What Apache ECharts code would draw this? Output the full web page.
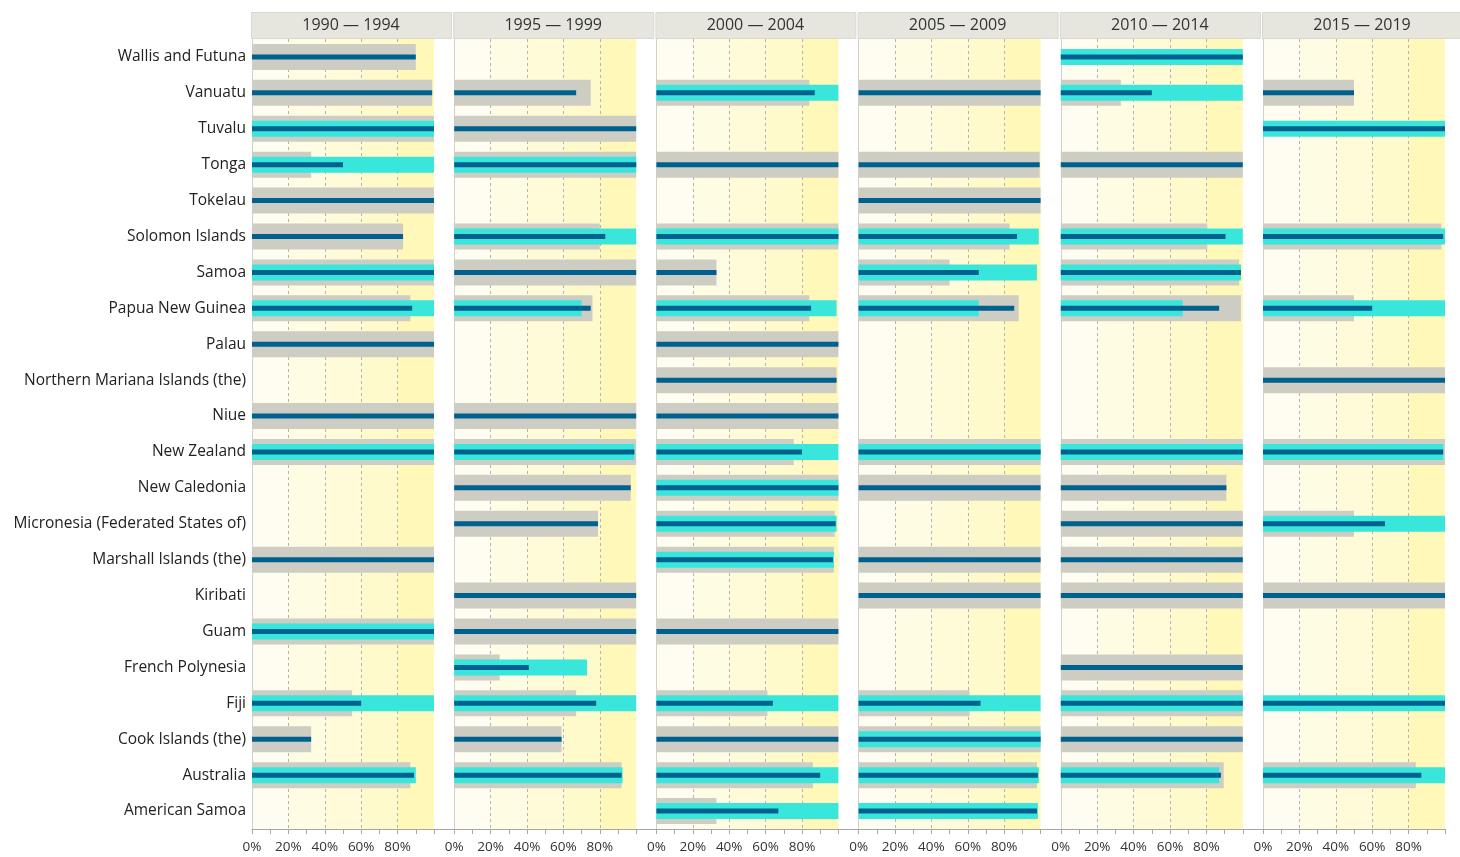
<!DOCTYPE html>
<html>
<head>
<meta charset="utf-8">
<title>Pacific coverage by period</title>
<script src="https://cdn.jsdelivr.net/npm/echarts@6/dist/echarts.min.js"></script>
<style>
  html, body { margin: 0; padding: 0; background: #ffffff; }
  #chart { width: 1460px; height: 857px; }
</style>
</head>
<body>
<div id="chart"></div>
<script>
// Countries, top row first
const countries = [
  'Wallis and Futuna', 'Vanuatu', 'Tuvalu', 'Tonga', 'Tokelau', 'Solomon Islands',
  'Samoa', 'Papua New Guinea', 'Palau', 'Northern Mariana Islands (the)', 'Niue',
  'New Zealand', 'New Caledonia', 'Micronesia (Federated States of)', 'Marshall Islands (the)',
  'Kiribati', 'Guam', 'French Polynesia', 'Fiji', 'Cook Islands (the)', 'Australia', 'American Samoa'
];

const periods = ['1990 — 1994', '1995 — 1999', '2000 — 2004', '2005 — 2009', '2010 — 2014', '2015 — 2019'];

// Value-axis ticks (percent)
const bandEdges = [0, 20, 40, 60, 80, 100];

// Wide grey bars (range), per period
const range1990 = [90, 99, 100, 32.5, 100, 83, 100, 87, 100, null, 100, 100, null, null, 100, null, 100, null, 55, 32.5, 87, null];
const range1995 = [null, 75, 100, 100, null, 80, 100, 76, null, null, 100, 100, 97, 79, null, 100, 100, 25, 67, 59, 92, null];
const range2000 = [null, 84, null, 100, null, 100, 33, 84, 100, 99, 100, 75.5, 100, 98, 97.5, null, 100, null, 61, 100, 86, 33];
const range2005 = [null, 100, null, 99.5, 100, 83, 50, 88, null, null, null, 100, 100, null, 100, 100, null, null, 61, 100, 98, null];
const range2010 = [null, 33, null, 100, null, 80.5, 98, 99, null, null, null, 100, 91, 100, 100, 100, null, 100, 100, 100, 89.5, null];
const range2015 = [null, 50, null, null, null, 98, null, 50, null, 100, null, 100, null, 50, null, 100, null, null, null, null, 84, null];

// Medium cyan bars (comparison), per period
const compare1990 = [null, null, 100, 100, null, null, 100, 100, null, null, null, 100, null, null, null, null, 100, null, 100, null, 90, null];
const compare1995 = [null, null, null, 100, null, 100, null, 70, null, null, null, 99, null, null, null, null, null, 73, 100, null, 92.5, null];
const compare2000 = [null, 100, null, null, null, 100, null, 99, null, null, null, 100, 100, 99, 97.5, null, null, null, 100, null, 100, 100];
const compare2005 = [null, null, null, null, null, 99, 98, 66, null, null, null, 100, null, null, null, null, null, null, 100, 100, 99, 98.5];
const compare2010 = [100, 100, null, null, null, 100, 99, 67, null, null, null, 100, null, null, null, null, null, null, 100, null, 87, null];
const compare2015 = [null, null, 100, null, null, 100, null, 100, null, null, null, 99, null, 100, null, null, null, null, 100, null, 100, null];

// Thin dark bars (actual value), per period
const actual1990 = [90, 99, 100, 50, 100, 83, 100, 88, 100, null, 100, 100, null, null, 100, null, 100, null, 60, 32.5, 89, null];
const actual1995 = [null, 67, 100, 100, null, 83, 100, 75, null, null, 100, 99, 97, 79, null, 100, 100, 41, 78, 59, 92, null];
const actual2000 = [null, 87, null, 100, null, 100, 33, 85, 100, 99, 100, 80, 100, 98.5, 97, null, 100, null, 64, 100, 90, 67];
const actual2005 = [null, 100, null, 99.5, 100, 87, 66, 85.5, null, null, null, 100, 100, null, 100, 100, null, null, 67, 100, 98.5, 98];
const actual2010 = [100, 50, null, 100, null, 90.5, 99, 87, null, null, null, 100, 91, 100, 100, 100, null, 100, 100, 100, 88, null];
const actual2015 = [null, 50, 100, null, null, 99, null, 60, null, 100, null, 99, null, 67, null, 100, null, null, 100, null, 87, null];

const rangeSets = [range1990, range1995, range2000, range2005, range2010, range2015];
const compareSets = [compare1990, compare1995, compare2000, compare2005, compare2010, compare2015];
const actualSets = [actual1990, actual1995, actual2000, actual2005, actual2010, actual2015];

// Layout
const PANEL_LEFT = 252;
const PANEL_STEP = 202.2;
const PANEL_W = 182;
const PLOT_TOP = 39;
const PLOT_H = 790;
const HEADER_TOP = 12;
const HEADER_H = 26;
const FONT = '"Open Sans", "Noto Sans", sans-serif';

const bandColors = ['#fffdf1', '#fffce4', '#fffbd8', '#fffacb', '#fff8b9'];
const greyBar = '#cecdc4';
const cyanBar = '#38e6dc';
const darkBar = '#00618f';

const grids = [], xAxes = [], yAxes = [], series = [], graphics = [];

periods.forEach((label, i) => {
  const left = PANEL_LEFT + i * PANEL_STEP;
  grids.push({ left: left, top: PLOT_TOP, width: PANEL_W, height: PLOT_H, containLabel: false });

  xAxes.push({
    gridIndex: i, type: 'value', min: bandEdges[0], max: bandEdges[bandEdges.length - 1], interval: 20,
    axisLine: { show: true, onZero: false, lineStyle: { color: '#a6a6a6', width: 1 } },
    axisTick: { show: true, length: 5, lineStyle: { color: '#a6a6a6' } },
    minorTick: { show: true, splitNumber: 2, length: 5, lineStyle: { color: '#a6a6a6' } },
    axisLabel: {
      color: '#333', fontSize: 13.5, fontFamily: FONT, margin: 11,
      formatter: v => (v >= 100 ? '' : v + '%')
    },
    splitLine: { show: true, showMinLine: false, showMaxLine: false,
      lineStyle: { color: '#b4b4b4', type: [3, 3], width: 1 } },
    splitArea: { show: true, areaStyle: { color: bandColors } }
  });

  // three category axes per panel so each bar layer is centred on its row
  for (let k = 0; k < 3; k++) {
    yAxes.push({
      gridIndex: i, type: 'category', data: countries, inverse: true,
      show: k === 0,
      axisLine: { show: true, lineStyle: { color: '#d0d0d0', width: 1 } },
      axisTick: { show: false },
      axisLabel: { show: i === 0, color: '#222', fontSize: 15.5, fontFamily: FONT, margin: 6 },
      splitLine: { show: false }
    });
  }

  const yBase = i * 3;
  series.push({
    name: 'range ' + label, type: 'bar', xAxisIndex: i, yAxisIndex: yBase,
    data: rangeSets[i], barWidth: 26, itemStyle: { color: greyBar }, z: 2, silent: true
  });
  series.push({
    name: 'comparison ' + label, type: 'bar', xAxisIndex: i, yAxisIndex: yBase + 1,
    data: compareSets[i], barWidth: 16, itemStyle: { color: cyanBar }, z: 3, silent: true
  });
  series.push({
    name: 'actual ' + label, type: 'bar', xAxisIndex: i, yAxisIndex: yBase + 2,
    data: actualSets[i], barWidth: 5, itemStyle: { color: darkBar }, z: 4, silent: true
  });

  // period header box
  graphics.push({
    type: 'rect', left: left - 1, top: HEADER_TOP, silent: true,
    shape: { width: 200, height: HEADER_H },
    style: { fill: '#e6e6df', stroke: '#d8d8d0', lineWidth: 1 }
  });
  graphics.push({
    type: 'text', silent: true,
    x: left - 1 + 100, y: HEADER_TOP + HEADER_H / 2,
    style: { text: label, fill: '#333', font: '16px ' + FONT, textAlign: 'center', textVerticalAlign: 'middle' }
  });
});

// continuous baseline under all panels
graphics.push({
  type: 'line', silent: true, z: 10,
  shape: { x1: PANEL_LEFT, y1: PLOT_TOP + PLOT_H + 0.5, x2: PANEL_LEFT + 5 * PANEL_STEP + PANEL_W, y2: PLOT_TOP + PLOT_H + 0.5 },
  style: { stroke: '#a6a6a6', lineWidth: 1 }
});

const chart = echarts.init(document.getElementById('chart'), null, { renderer: 'canvas' });
chart.setOption({
  animation: false,
  backgroundColor: '#ffffff',
  grid: grids,
  xAxis: xAxes,
  yAxis: yAxes,
  series: series,
  graphic: graphics
});
</script>
</body>
</html>
